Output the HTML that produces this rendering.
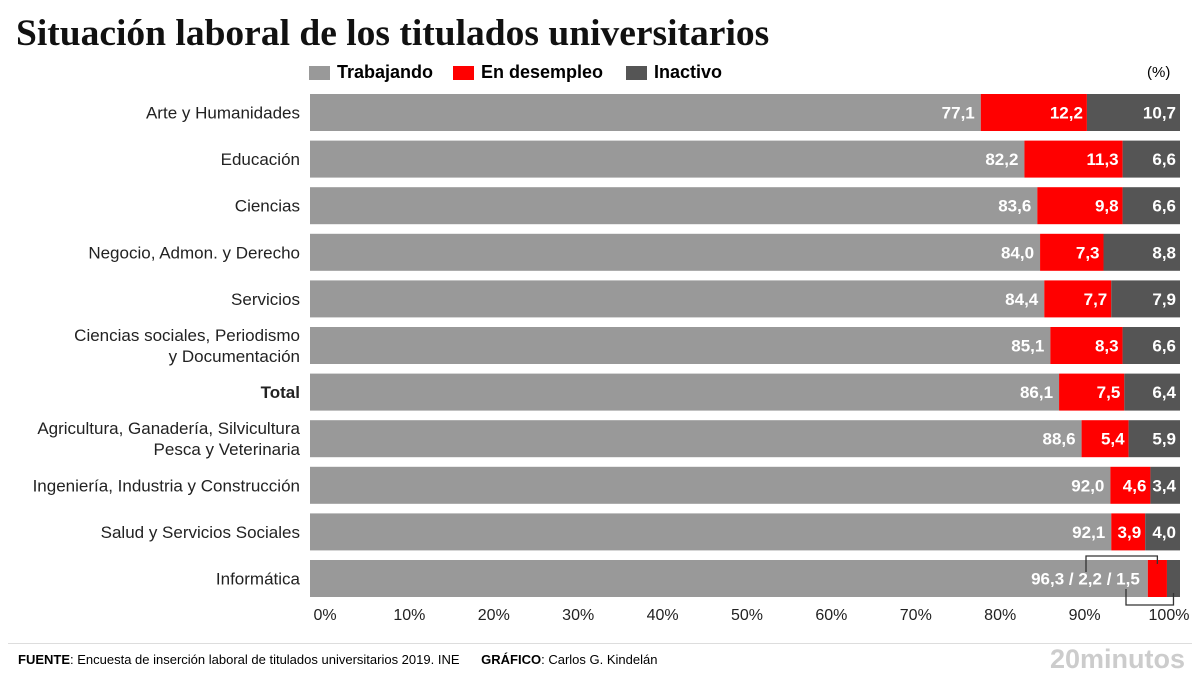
<!DOCTYPE html>
<html><head><meta charset="utf-8"><style>
body{margin:0;width:1200px;height:675px;background:#fff;font-family:"Liberation Sans",sans-serif;overflow:hidden;position:relative}
.t{position:absolute;white-space:nowrap}
</style></head><body>
<div class="t" style="left:16px;top:12px;font-family:'Liberation Serif',serif;font-weight:bold;font-size:37.5px;color:#111">Situación laboral de los titulados universitarios</div>
<div>
<div style="position:absolute;left:309px;top:66px;width:21px;height:14px;background:#999"></div>
<div class="t" style="left:337px;top:62px;font-weight:bold;font-size:18px">Trabajando</div>
<div style="position:absolute;left:453px;top:66px;width:21px;height:14px;background:#f00"></div>
<div class="t" style="left:481px;top:62px;font-weight:bold;font-size:18px">En desempleo</div>
<div style="position:absolute;left:626px;top:66px;width:21px;height:14px;background:#555"></div>
<div class="t" style="left:654px;top:62px;font-weight:bold;font-size:18px">Inactivo</div>
</div>
<div class="t" style="left:1147px;top:64px;font-size:15px">(%)</div>
<svg id="c" width="1200" height="675" style="position:absolute;left:0;top:0"></svg>
<div style="position:absolute;left:8px;top:643px;width:1184px;height:1px;background:#ddd"></div>
<div class="t" style="left:18px;top:652px;font-size:13px"><b>FUENTE</b>: Encuesta de inserción laboral de titulados universitarios 2019. INE &nbsp;&nbsp;&nbsp;&nbsp; <b>GRÁFICO</b>: Carlos G. Kindelán</div>
<div class="t" style="left:1050px;top:644px;font-size:27px;font-weight:bold;color:#ccc">20minutos</div>
<script>
const categories=["Arte y Humanidades","Educación","Ciencias","Negocio, Admon. y Derecho","Servicios","Ciencias sociales, Periodismo|y Documentación","Total","Agricultura, Ganadería, Silvicultura|Pesca y Veterinaria","Ingeniería, Industria y Construcción","Salud y Servicios Sociales","Informática"];
const trabajando=[77.1,82.2,83.6,84.0,84.4,85.1,86.1,88.6,92.0,92.1,96.3];
const desempleo=[12.2,11.3,9.8,7.3,7.7,8.3,7.5,5.4,4.6,3.9,2.2];
const inactivo=[10.7,6.6,6.6,8.8,7.9,6.6,6.4,5.9,3.4,4.0,1.5];
const ticks=[0,10,20,30,40,50,60,70,80,90,100];
const svg=document.getElementById('c'),NS="http://www.w3.org/2000/svg";
const x0=310,x1=1180;
const xs=v=>x0+(x1-x0)*v/100;
const yc=i=>112.5+i*46.6;
const bh=37;
const fmt=v=>v.toFixed(1).replace('.',',');
function el(t,a,txt){const e=document.createElementNS(NS,t);for(const k in a)e.setAttribute(k,a[k]);if(txt!==undefined)e.textContent=txt;svg.appendChild(e);return e;}
categories.forEach((c,i)=>{
 const y=yc(i)-bh/2,tot=trabajando[i]+desempleo[i]+inactivo[i];
 const s=100/tot;
 const a=xs(trabajando[i]*s),b=xs((trabajando[i]+desempleo[i])*s);
 let r=el('rect',{x:x0,y:y,width:a-x0,height:bh,fill:'#999'});
 
 r=el('rect',{x:a,y:y,width:b-a,height:bh,fill:'#f00'});
 
 r=el('rect',{x:b,y:y,width:x1-b,height:bh,fill:'#555'});
 
 const lines=c.split('|');
 lines.forEach((ln,j)=>{
  const t=el('text',{x:300,y:yc(i)+6+(j-(lines.length-1)/2)*21,'text-anchor':'end','font-size':17,fill:'#222','font-weight':c==='Total'?'bold':'normal'},ln);
  
 });
 const ty=yc(i)+6;
 if(i<categories.length-1){
  let t=el('text',{x:a-6,y:ty,'text-anchor':'end','font-size':17,'font-weight':'bold',fill:'#fff'},fmt(trabajando[i]));
  
  t=el('text',{x:b-4,y:ty,'text-anchor':'end','font-size':17,'font-weight':'bold',fill:'#fff'},fmt(desempleo[i]));
  
  t=el('text',{x:x1-4,y:ty,'text-anchor':'end','font-size':17,'font-weight':'bold',fill:'#fff'},fmt(inactivo[i]));
  
 }else{
  let t=el('text',{x:a-8,y:ty,'text-anchor':'end','font-size':17,'font-weight':'bold',fill:'#fff'},fmt(trabajando[i])+' / '+fmt(desempleo[i])+' / '+fmt(inactivo[i]));
  
  const p1=el('path',{d:`M1086 ${y+12}V${y-4}H${(a+b)/2}V${y+4}`,fill:'none',stroke:'#333','stroke-width':1.3});
  
  const p2=el('path',{d:`M1126 ${y+bh-8}V${y+bh+8}H${(b+x1)/2}V${y+bh-4}`,fill:'none',stroke:'#333','stroke-width':1.3});
  
 }
});
ticks.forEach((v,i)=>{
 const t=el('text',{x:325+v*8.44,y:620,'text-anchor':'middle','font-size':16,fill:'#222'},v+'%');
 
});
</script>
</body></html>
